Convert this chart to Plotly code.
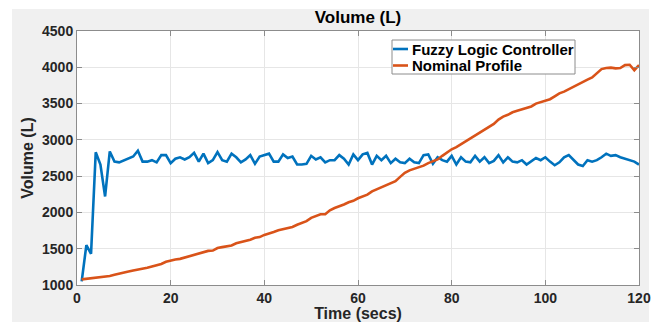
import plotly.graph_objects as go

time_s = list(range(1, 121))

fuzzy_volume = [
    1050, 1550, 1430, 2830, 2660, 2220, 2840, 2700, 2690, 2720,
    2740, 2770, 2850, 2700, 2700, 2720, 2690, 2790, 2790, 2680,
    2740, 2760, 2730, 2760, 2820, 2700, 2810, 2680, 2720, 2830,
    2720, 2700, 2810, 2760, 2690, 2730, 2790, 2670, 2770, 2790,
    2810, 2700, 2700, 2800, 2750, 2770, 2660, 2660, 2670, 2780,
    2730, 2760, 2690, 2720, 2720, 2790, 2740, 2660, 2800, 2720,
    2800, 2820, 2660, 2780, 2720, 2780, 2680, 2740, 2690, 2680,
    2740, 2690, 2680, 2790, 2800, 2670, 2760, 2720, 2700, 2780,
    2660, 2760, 2700, 2690, 2780, 2700, 2760, 2680, 2710, 2790,
    2690, 2760, 2700, 2690, 2720, 2660, 2700, 2750, 2720, 2760,
    2700, 2650, 2690, 2760, 2790, 2720, 2660, 2640, 2720, 2700,
    2720, 2760, 2810, 2780, 2790, 2760, 2740, 2730, 2700, 2660,
]

nominal_volume = [
    1078, 1085, 1090, 1100, 1108, 1115, 1124, 1140, 1158, 1170,
    1185, 1200, 1212, 1220, 1238, 1255, 1268, 1290, 1320, 1340,
    1352, 1360, 1378, 1395, 1420, 1432, 1450, 1470, 1475, 1510,
    1522, 1530, 1545, 1575, 1590, 1610, 1625, 1650, 1660, 1690,
    1705, 1730, 1755, 1770, 1785, 1800, 1830, 1855, 1880, 1925,
    1950, 1975, 1975, 2030, 2060, 2080, 2110, 2140, 2160, 2195,
    2220, 2245, 2290, 2320, 2345, 2380, 2410, 2430, 2490, 2545,
    2580, 2600, 2630, 2645, 2680, 2710, 2730, 2780, 2830, 2870,
    2900, 2940, 2970, 3010, 3060, 3100, 3140, 3180, 3220, 3280,
    3320, 3345, 3380, 3400, 3420, 3445, 3460, 3500, 3520, 3545,
    3560, 3600, 3640, 3665, 3700, 3730, 3770, 3800, 3830, 3860,
    3920, 3975, 3990, 3995, 3985, 3990, 4030, 4035, 3960, 4030,
]

series_names = ["Fuzzy Logic Controller", "Nominal Profile"]
series_colors = ["#0072BD", "#D95319"]

x_ticks = [0, 20, 40, 60, 80, 100, 120]
y_ticks = [1000, 1500, 2000, 2500, 3000, 3500, 4000, 4500]

FONT = "Liberation Sans"
# page is 659x322; the html body adds an 8px offset, so the figure is
# sized to fill exactly the rest of the window
OFF = 8
PAGE_W, PAGE_H = 659, 322
W, H = PAGE_W - OFF, PAGE_H - OFF
# plot area in page pixels: x 77..639, y 31..285
PL, PR, PT, PB = 77, 639, 31, 285
ML, MT = PL - OFF, PT - OFF
MR, MB = W - (PR - OFF), H - (PB - OFF)
PW, PH = PR - PL, PB - PT


def px(page_x):
    return (page_x - PL) / PW


def py(page_y):
    return (PB - page_y) / PH


fig = go.Figure()
for name, vals, col in zip(series_names, [fuzzy_volume, nominal_volume], series_colors):
    fig.add_trace(go.Scatter(x=time_s, y=vals, mode="lines", name=name,
                             line=dict(color=col, width=2.6),
                             showlegend=False))

axis_common = dict(showgrid=True, gridcolor="#e6e6e6", gridwidth=1,
                   showline=True, linecolor="#8c8c8c", linewidth=1,
                   mirror="ticks", ticks="inside", ticklen=5,
                   tickcolor="#8c8c8c", zeroline=False,
                   tickfont=dict(family=FONT, size=14, color="#262626"))

fig.update_xaxes(range=[0, 120], tickvals=x_ticks,
                 ticktext=[f"<b>{v}</b>" for v in x_ticks],
                 title=dict(text="<b>Time (secs)</b>", standoff=2,
                            font=dict(family=FONT, size=16, color="#262626")),
                 **axis_common)
fig.update_yaxes(range=[1000, 4500], tickvals=y_ticks,
                 ticktext=[f"<b>{v}</b>" for v in y_ticks],
                 title=dict(text="<b>Volume (L)</b>", standoff=4,
                            font=dict(family=FONT, size=16, color="#262626")),
                 **axis_common)

shapes = [
    # white outer strips around the grey figure panel (page coords)
    dict(type="rect", xref="paper", yref="paper", layer="below",
         x0=px(OFF - 2), x1=px(12), y0=py(PAGE_H + 2), y1=py(OFF - 2),
         fillcolor="white", line=dict(width=0)),
    dict(type="rect", xref="paper", yref="paper", layer="below",
         x0=px(649), x1=px(PAGE_W + 2), y0=py(PAGE_H + 2), y1=py(OFF - 2),
         fillcolor="white", line=dict(width=0)),
    dict(type="rect", xref="paper", yref="paper", layer="below",
         x0=px(OFF - 2), x1=px(PAGE_W + 2), y0=py(9), y1=py(OFF - 2),
         fillcolor="white", line=dict(width=0)),
    # legend box
    dict(type="rect", xref="paper", yref="paper", layer="above",
         x0=px(392), x1=px(575), y0=py(74), y1=py(40),
         fillcolor="white", line=dict(color="#8c8c8c", width=1)),
]

annotations = []
legend_rows = [49, 65.5]
for name, col, row in zip(series_names, series_colors, legend_rows):
    shapes.append(dict(type="line", xref="paper", yref="paper", layer="above",
                       x0=px(393), x1=px(408), y0=py(row), y1=py(row),
                       line=dict(color=col, width=2.6)))
    annotations.append(dict(xref="paper", yref="paper", x=px(410), y=py(row),
                            xanchor="left", yanchor="middle", showarrow=False,
                            text=f"<b>{name}</b>",
                            font=dict(family=FONT, size=15, color="#000000")))

fig.update_layout(
    width=W, height=H,
    margin=dict(l=ML, r=MR, t=MT, b=MB, autoexpand=False),
    paper_bgcolor="#f0f0f0", plot_bgcolor="white",
    font=dict(family=FONT, color="#262626"),
    title=dict(text="<b>Volume (L)</b>", x=0.5, xanchor="center",
               xref="paper", y=1 - (17 - OFF) / H, yanchor="middle",
               font=dict(family=FONT, size=17, color="#000000")),
    shapes=shapes,
    annotations=annotations,
    showlegend=False,
)

fig.write_html("out.html")
